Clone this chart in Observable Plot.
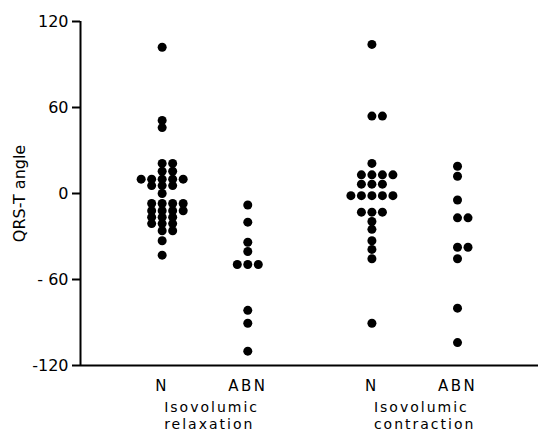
<!DOCTYPE html>
<html>
<head>
<meta charset="utf-8">
<script src="https://cdn.jsdelivr.net/npm/d3@7"></script>
<script src="https://cdn.jsdelivr.net/npm/@observablehq/plot@0.6"></script>
<style>
  html, body { margin: 0; padding: 0; background: white; }
  svg { display: block; }
  [aria-label^="x-axis"] text { letter-spacing: 2.4px; }
  g[aria-label="text"] text { letter-spacing: 2px; }
</style>
</head>
<body>
<div id="chart"></div>
<script>
// ---- data ----
const conditions = ["Isovolumic\nrelaxation", "Isovolumic\ncontraction"];
const groupLabels = ["N", "ABN"];
const yTicks = [-120, -60, 0, 60, 120];
const yTickLabels = ["-120", "- 60", "0", "60", "120"];

const relaxN = [102, 51, 46, 21, 21, 15.5, 15.5, 10, 10, 10, 10, 10, 5.5, 5.5, 5.5, 0,
  -7, -7, -7, -7, -12, -12, -12, -12, -16.5, -16.5, -16.5, -21, -21, -21, -26, -26, -33, -43];
const relaxABN = [-8, -20, -34, -40.5, -49.5, -49.5, -49.5, -81.5, -90.5, -110];
const contrN = [104, 54, 54, 21, 13, 13, 13, 13, 6.5, 6.5, 6.5, -1.5, -1.5, -1.5, -1.5, -1.5,
  -13, -13, -13, -19.5, -25, -33, -39, -45.5, -90.5];
const contrABN = [19, 12, -4.5, -17, -17, -37.5, -37.5, -45.5, -80, -104];

const seriesList = [
  {cond: 0, grp: 0, values: relaxN},
  {cond: 0, grp: 1, values: relaxABN},
  {cond: 1, grp: 0, values: contrN},
  {cond: 1, grp: 1, values: contrABN}
];

// ---- layout in x-scale units ----
const xDomain = [-0.954, 4.396];
const condGap = 2.45;      // distance between the two condition blocks
const colStep = 0.1227;    // horizontal step between stacked dots
const order = [0, 1, -1, 2, -2, 3, -3];
const slot = (c, g) => c * condGap + g;

const points = [];
for (const s of seriesList) {
  const counts = new Map();
  for (const v of s.values) {
    const k = counts.get(v) || 0;
    counts.set(v, k + 1);
    points.push({x: slot(s.cond, s.grp) + order[k] * colStep, y: v});
  }
}
const tickSlots = [];
const tickText = new Map();
conditions.forEach((c, ci) => groupLabels.forEach((g, gi) => {
  const p = slot(ci, gi);
  tickSlots.push(p);
  tickText.set(Math.round(p * 1000), g);
}));
const condLabels = conditions.map((c, ci) => ({x: slot(ci, 0), text: c}));

const chart = Plot.plot({
  width: 540,
  height: 431,
  marginLeft: 80,
  marginRight: 2,
  marginTop: 21,
  marginBottom: 66,
  style: {fontFamily: "DejaVu Sans", fontSize: "15px", background: "white", color: "black"},
  x: {type: "linear", domain: xDomain},
  y: {domain: [-120, 120]},
  marks: [
    Plot.axisY({
      ticks: yTicks,
      tickFormat: d => yTickLabels[yTicks.indexOf(d)],
      tickSize: 8,
      tickPadding: 4,
      strokeWidth: 2,
      fontSize: 16,
      label: "QRS-T angle",
      labelArrow: false,
      labelAnchor: "center",
      labelOffset: 67
    }),
    Plot.axisX({
      ticks: tickSlots,
      tickFormat: d => tickText.get(Math.round(d * 1000)),
      tickSize: 0,
      tickPadding: 15,
      fontSize: 15,
      label: null
    }),
    Plot.ruleY([yTicks[0]], {stroke: "black", strokeWidth: 2}),
    Plot.ruleX([xDomain[0]], {stroke: "black", strokeWidth: 2}),
    Plot.dot(points, {x: "x", y: "y", r: 4.5, fill: "black"}),
    Plot.text(condLabels, {x: "x", text: "text", frameAnchor: "bottom", textAnchor: "start",
      lineAnchor: "top", lineHeight: 1.17, dx: 2, dy: 35, fontSize: 14, fill: "black"})
  ]
});
document.getElementById("chart").appendChild(chart);
</script>
</body>
</html>
